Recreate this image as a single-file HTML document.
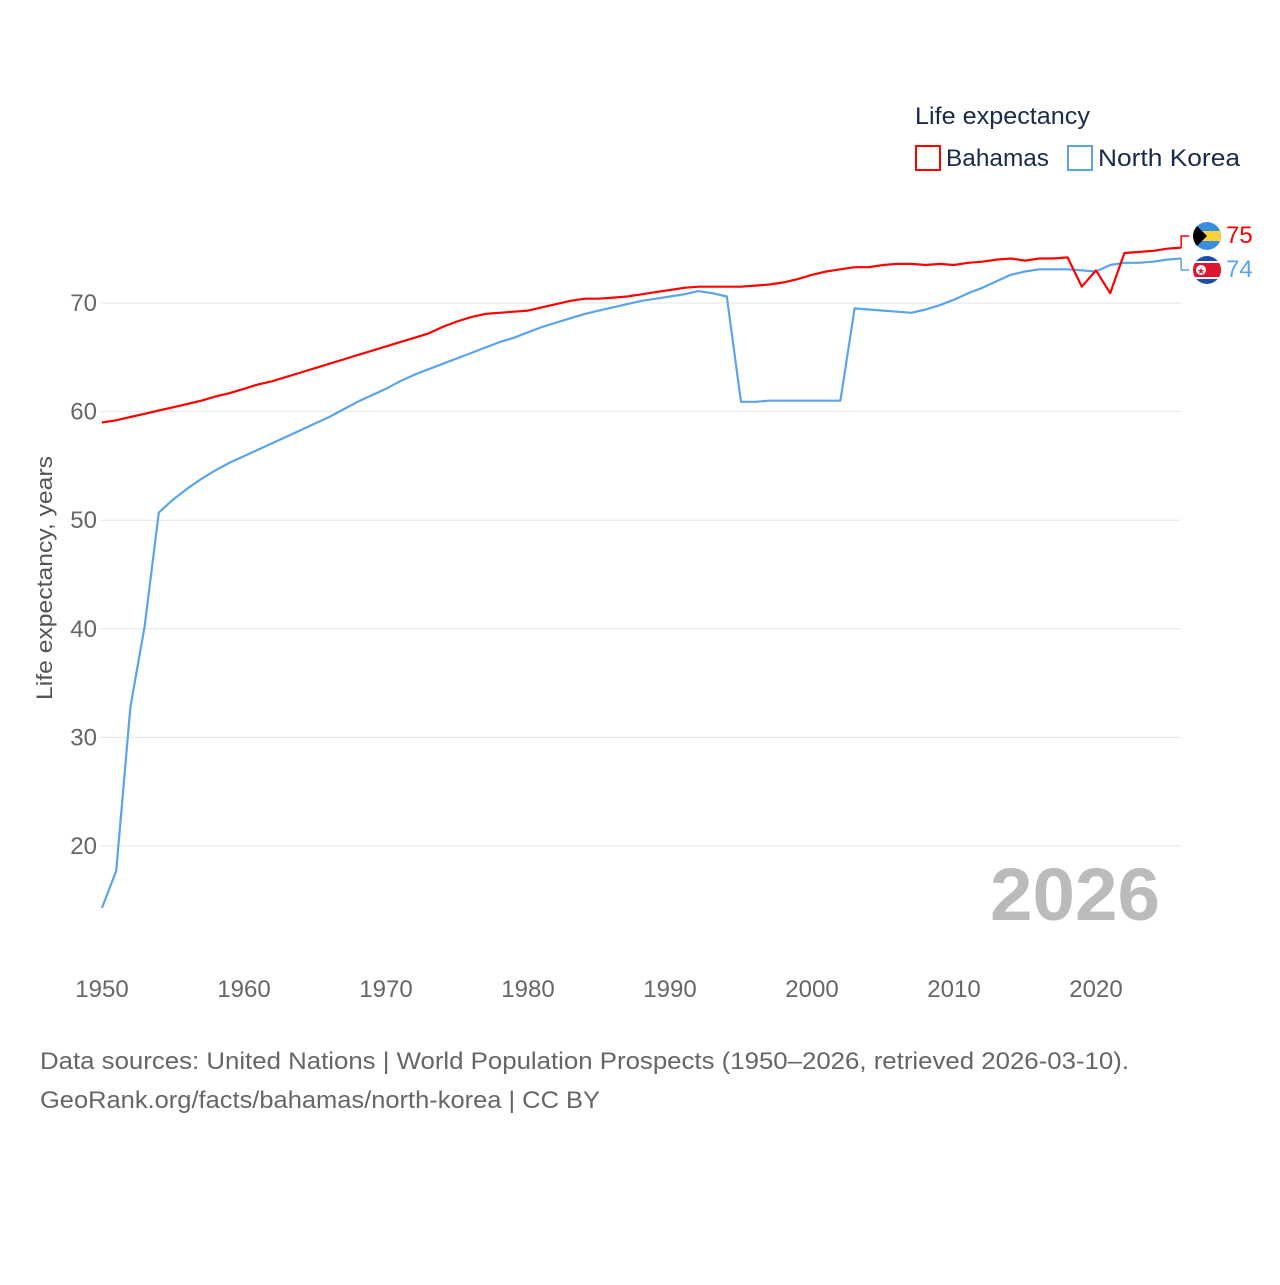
<!DOCTYPE html>
<html><head><meta charset="utf-8"><style>
body{margin:0;background:#fff;font-family:"Liberation Sans",sans-serif}
svg text{font-family:"Liberation Sans",sans-serif}
</style></head><body>
<svg width="1280" height="1280" viewBox="0 0 1280 1280">
<g id="grid"></g>
<g id="yticks"></g>
<g id="xticks"></g>
<text x="52" y="578" transform="rotate(-90 52 578)" text-anchor="middle" font-size="22" fill="#555" textLength="244" lengthAdjust="spacingAndGlyphs">Life expectancy, years</text>
<text x="1160" y="920" text-anchor="end" font-size="74" font-weight="bold" fill="#bbb" textLength="170" lengthAdjust="spacingAndGlyphs">2026</text>
<g id="series"></g>
<text x="915" y="124" font-size="24" fill="#1a2a4a" textLength="175" lengthAdjust="spacingAndGlyphs">Life expectancy</text>
<g><rect x="916" y="146" width="24" height="24" fill="none" stroke="#f00" stroke-width="2"/><text x="946" y="166" font-size="24" fill="#1a2a4a" textLength="103" lengthAdjust="spacingAndGlyphs">Bahamas</text></g>
<g><rect x="1068" y="146" width="24" height="24" fill="none" stroke="#5ba4ea" stroke-width="2"/><text x="1098" y="166" font-size="24" fill="#1a2a4a" textLength="142" lengthAdjust="spacingAndGlyphs">North Korea</text></g>
<g>
<clipPath id="c1"><circle cx="1207" cy="236" r="14"/></clipPath>
<g clip-path="url(#c1)"><rect x="1193" y="222" width="28" height="28" fill="#3a8de0"/><rect x="1193" y="231" width="28" height="10" fill="#f7d23a"/><polygon points="1193,222 1207,236 1193,250" fill="#000"/></g></g>
<g>
<clipPath id="c2"><circle cx="1207" cy="270" r="14"/></clipPath>
<g clip-path="url(#c2)"><rect x="1193" y="256" width="28" height="28" fill="#1a4fa8"/><rect x="1193" y="261" width="28" height="18" fill="#fff"/><rect x="1193" y="263" width="28" height="14" fill="#e01530"/><circle cx="1201" cy="270" r="5" fill="#fff"/><text x="1201" y="274" font-size="9" text-anchor="middle" fill="#e01530">★</text></g></g>
<text x="1226" y="243" font-size="24" fill="#f00">75</text>
<text x="1226" y="277" font-size="24" fill="#5ba4ea">74</text>
<text x="40" y="1069" font-size="24" fill="#666" textLength="1089" lengthAdjust="spacingAndGlyphs">Data sources: United Nations | World Population Prospects (1950–2026, retrieved 2026-03-10).</text>
<text x="40" y="1108" font-size="24" fill="#666" textLength="560" lengthAdjust="spacingAndGlyphs">GeoRank.org/facts/bahamas/north-korea | CC BY</text>
</svg>
<script>
const startYear = 1950;
const bahamas = [59.0,59.2,59.5,59.8,60.1,60.4,60.7,61.0,61.4,61.7,62.1,62.5,62.8,63.2,63.6,64.0,64.4,64.8,65.2,65.6,66.0,
66.4,66.8,67.2,67.8,68.3,68.7,69.0,69.1,69.2,69.3,
69.6,69.9,70.2,70.4,70.4,70.5,70.6,70.8,71.0,71.2,
71.4,71.5,71.5,71.5,71.5,71.6,71.7,71.9,72.2,72.6,
72.9,73.1,73.3,73.3,73.5,73.6,73.6,73.5,73.6,73.5,
73.7,73.8,74.0,74.1,73.9,74.1,74.1,74.2,71.5,73.0,
70.9,74.6,74.7,74.8,75.0,75.1];
const northKorea = [14.3,17.7,32.8,40.2,50.7,51.9,52.9,53.8,54.6,55.3,55.9,
56.5,57.1,57.7,58.3,58.9,59.5,60.2,60.9,61.5,62.1,
62.8,63.4,63.9,64.4,64.9,65.4,65.9,66.4,66.8,67.3,
67.8,68.2,68.6,69.0,69.3,69.6,69.9,70.2,70.4,70.6,
70.8,71.1,70.9,70.6,60.9,60.9,61.0,61.0,61.0,61.0,
61.0,61.0,69.5,69.4,69.3,69.2,69.1,69.4,69.8,70.3,
70.9,71.4,72.0,72.6,72.9,73.1,73.1,73.1,73.0,72.9,
73.5,73.7,73.7,73.8,74.0,74.1];
const yTicks = [20,30,40,50,60,70];
const xTicks = [1950,1960,1970,1980,1990,2000,2010,2020];
const NS="http://www.w3.org/2000/svg";
const X = y => 102 + (y-1950)*14.2;
const Y = v => 303 + (70-v)*10.86;
function mk(t,a,p){const e=document.createElementNS(NS,t);for(const k in a)e.setAttribute(k,a[k]);p.appendChild(e);return e;}
const grid=document.getElementById('grid'), yt=document.getElementById('yticks'), xt=document.getElementById('xticks'), s=document.getElementById('series');
yTicks.forEach(v=>{
  const l=mk('line',{x1:100,x2:1181,y1:Y(v),y2:Y(v),stroke:'#e6e6e6','stroke-width':1},grid);
  
  
  const t=mk('text',{x:97,y:Y(v)+8,'text-anchor':'end','font-size':24,fill:'#666'},yt);
  t.textContent=v;
  
  
});
xTicks.forEach(v=>{
  const t=mk('text',{x:X(v),y:997,'text-anchor':'middle','font-size':24,fill:'#666'},xt);
  t.textContent=v;
  
  
});
function line(arr,col,name,ly){
  let pts=arr.map((v,i)=>X(startYear+i).toFixed(1)+','+Y(v).toFixed(1));
  const lastX=X(startYear+arr.length-1), lastY=Y(arr[arr.length-1]);
  const p=mk('polyline',{points:pts.join(' '),fill:'none',stroke:col,'stroke-width':2.2,'stroke-linejoin':'round'},s);
  
  
  const c=mk('polyline',{points:`${lastX},${lastY} ${lastX},${ly} ${lastX+8},${ly}`,fill:'none',stroke:col,'stroke-width':1.5},s);
  
  
}
line(northKorea,'#5ba4ea','line-north-korea',270);
line(bahamas,'#f00','line-bahamas',236);
</script>
</body></html>
